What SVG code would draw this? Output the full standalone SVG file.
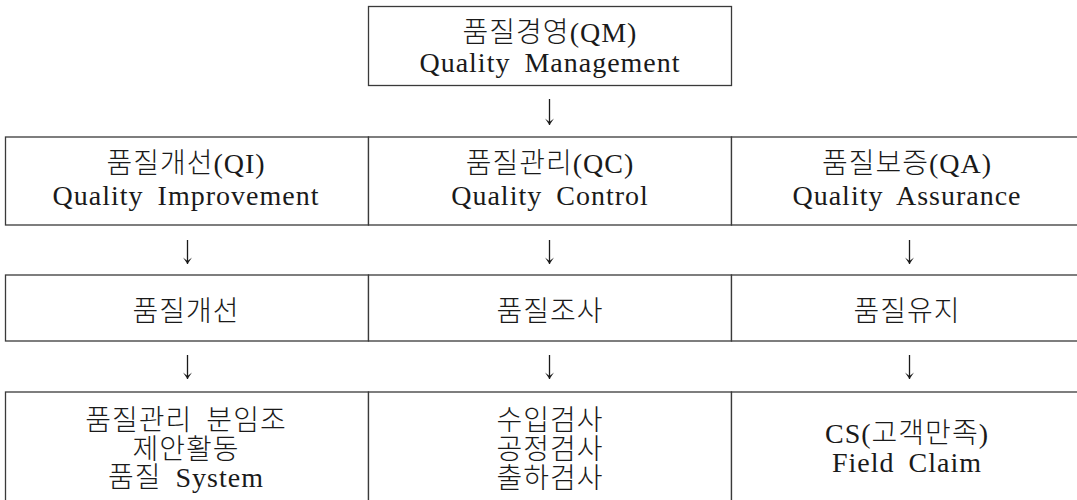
<svg xmlns="http://www.w3.org/2000/svg" width="1077" height="500" viewBox="0 0 1077 500">
<style>
rect.box{fill:#fff;stroke:#3a3a3a;stroke-width:1.3}
text{font-family:"Liberation Serif","Noto Sans CJK KR",serif;font-size:28px;font-weight:300;fill:#1a1a1a;text-anchor:middle;letter-spacing:1px;word-spacing:6px}
.conn line{stroke:#1a1a1a;stroke-width:1.3}
</style>
<defs>
<marker id="ah" viewBox="0 0 10 10" refX="9.5" refY="5" markerWidth="10" markerHeight="10" markerUnits="userSpaceOnUse" orient="auto">
<path d="M3,0.5 L9.5,5 L3,9.5 L6.5,5 Z" fill="#1a1a1a"/>
</marker>
</defs>
<rect width="1077" height="500" fill="#fff"/>
<g id="qm">
<rect class="box" x="368.5" y="6.5" width="363" height="79"/>
<text x="550" y="42">품질경영(QM)</text>
<text x="550" y="72">Quality Management</text>
</g>
<g id="qi">
<rect class="box" x="5.5" y="137" width="363" height="88"/>
<text x="186" y="173">품질개선(QI)</text>
<text x="186" y="205">Quality Improvement</text>
</g>
<g id="qc">
<rect class="box" x="368.5" y="137" width="363" height="88"/>
<text x="550" y="173">품질관리(QC)</text>
<text x="550" y="205">Quality Control</text>
</g>
<g id="qa">
<rect class="box" x="731.5" y="137" width="360" height="88"/>
<text x="907" y="173">품질보증(QA)</text>
<text x="907" y="205">Quality Assurance</text>
</g>
<g id="improve">
<rect class="box" x="5.5" y="275" width="363" height="66"/>
<text x="186" y="321">품질개선</text>
</g>
<g id="inspect">
<rect class="box" x="368.5" y="275" width="363" height="66"/>
<text x="550" y="321">품질조사</text>
</g>
<g id="maintain">
<rect class="box" x="731.5" y="275" width="360" height="66"/>
<text x="907" y="321">품질유지</text>
</g>
<g id="activities">
<rect class="box" x="5.5" y="392" width="363" height="120"/>
<text x="186" y="430">품질관리 분임조</text>
<text x="186" y="459">제안활동</text>
<text x="186" y="487">품질 System</text>
</g>
<g id="checks">
<rect class="box" x="368.5" y="392" width="363" height="120"/>
<text x="550" y="430">수입검사</text>
<text x="550" y="459">공정검사</text>
<text x="550" y="488">출하검사</text>
</g>
<g id="cs">
<rect class="box" x="731.5" y="392" width="360" height="120"/>
<text x="907" y="443">CS(고객만족)</text>
<text x="907" y="472">Field Claim</text>
</g>
<g class="conn" id="connectors">
<line x1="549.5" y1="99" x2="549.5" y2="125" marker-end="url(#ah)"/>
<line x1="187.5" y1="240" x2="187.5" y2="264" marker-end="url(#ah)"/>
<line x1="549.5" y1="240" x2="549.5" y2="264" marker-end="url(#ah)"/>
<line x1="909.5" y1="240" x2="909.5" y2="264" marker-end="url(#ah)"/>
<line x1="187.5" y1="355" x2="187.5" y2="379" marker-end="url(#ah)"/>
<line x1="549.5" y1="355" x2="549.5" y2="379" marker-end="url(#ah)"/>
<line x1="909.5" y1="355" x2="909.5" y2="379" marker-end="url(#ah)"/>
</g>
</svg>
